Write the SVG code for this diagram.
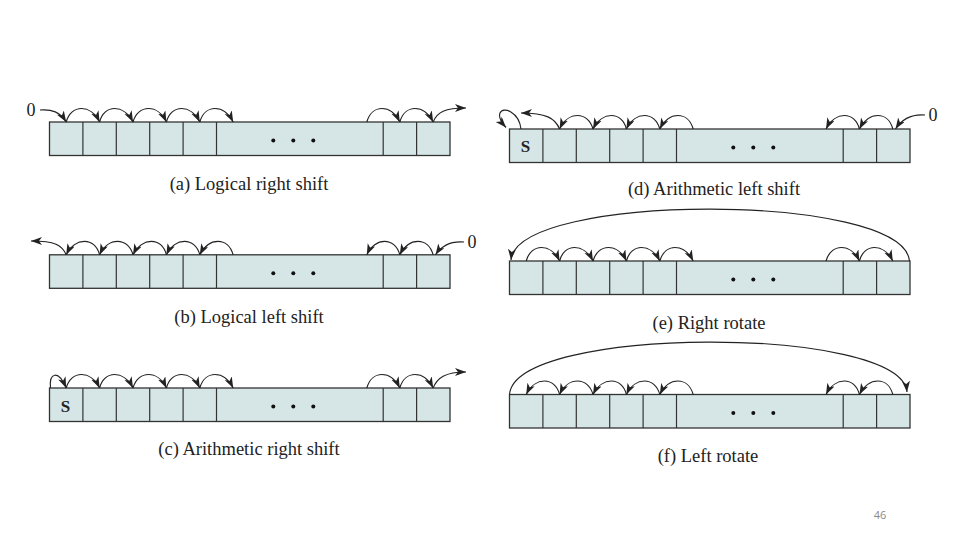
<svg xmlns="http://www.w3.org/2000/svg" width="960" height="540" viewBox="0 0 960 540">
<style>
.reg{fill:#d6e6e6;stroke:#333;stroke-width:1.3}
.div{stroke:#333;stroke-width:1.2}
.dot{fill:#111}
.cap{font-family:"Liberation Serif","Times New Roman",serif;font-size:18.5px;fill:#222;text-anchor:middle}
.lbl{font-family:"Liberation Serif","Times New Roman",serif;font-size:18px;fill:#222;text-anchor:middle}
.s{font-family:"Liberation Serif","Times New Roman",serif;font-size:17px;font-weight:bold;fill:#222;text-anchor:middle}
.arc{fill:none;stroke:#222;stroke-width:1.15;marker-end:url(#ah)}
.pg{font-family:"Open Sans","Liberation Sans",sans-serif;font-size:11px;fill:#8a8a8a;text-anchor:middle}
</style>
<defs>
<marker id="ah" markerUnits="userSpaceOnUse" markerWidth="12" markerHeight="9" refX="11" refY="4" orient="auto">
<path d="M0,0 L11,4 L0,8 L3,4 z" fill="#222"/>
</marker>
<g id="regshape">
<rect class="reg" x="0" y="0" width="400.5" height="33.5"/>
<line class="div" x1="33.4" y1="0" x2="33.4" y2="33.5"/>
<line class="div" x1="66.8" y1="0" x2="66.8" y2="33.5"/>
<line class="div" x1="100.2" y1="0" x2="100.2" y2="33.5"/>
<line class="div" x1="133.6" y1="0" x2="133.6" y2="33.5"/>
<line class="div" x1="167" y1="0" x2="167" y2="33.5"/>
<line class="div" x1="333.7" y1="0" x2="333.7" y2="33.5"/>
<line class="div" x1="367.1" y1="0" x2="367.1" y2="33.5"/>
<circle class="dot" cx="223.8" cy="18.5" r="2"/>
<circle class="dot" cx="243.8" cy="18.5" r="2"/>
<circle class="dot" cx="263.8" cy="18.5" r="2"/>
</g>
</defs>
<rect width="960" height="540" fill="#fff"/>

<g id="reg-a">
<use href="#regshape" x="49.5" y="122"/>
<text class="lbl" x="31" y="116">0</text>
<text class="cap" x="249" y="190">(a) Logical right shift</text>
</g>
<g id="reg-b">
<use href="#regshape" x="49.5" y="254.8"/>
<text class="lbl" x="472" y="248">0</text>
<text class="cap" x="249" y="322.5">(b) Logical left shift</text>
</g>
<g id="reg-c">
<use href="#regshape" x="49.5" y="388"/>
<text class="s" x="65.5" y="411.5">S</text>
<text class="cap" x="249" y="454.5">(c) Arithmetic right shift</text>
</g>
<g id="reg-d">
<use href="#regshape" x="509.5" y="129"/>
<text class="s" x="525.5" y="152">S</text>
<text class="lbl" x="933" y="121">0</text>
<text class="cap" x="714" y="195">(d) Arithmetic left shift</text>
</g>
<g id="reg-e">
<use href="#regshape" x="509.5" y="261"/>
<text class="cap" x="709" y="329">(e) Right rotate</text>
</g>
<g id="reg-f">
<use href="#regshape" x="509.5" y="394.5"/>
<text class="cap" x="708" y="462">(f) Left rotate</text>
</g>

<g id="connectors">
<!-- (a) -->
<path class="arc" d="M40,110 C52,109 60,112 66.2,122"/>
<path class="arc" d="M66.2,122 C71,104 91,104 99.6,122"/>
<path class="arc" d="M99.6,122 C104,104 124,104 133,122"/>
<path class="arc" d="M133,122 C138,104 158,104 166.4,122"/>
<path class="arc" d="M166.4,122 C171,104 191,104 199.8,122"/>
<path class="arc" d="M199.8,122 C205,104 224,104 233.2,122"/>
<path class="arc" d="M366.8,122 C372,104 391,104 399.8,122"/>
<path class="arc" d="M399.8,122 C405,104 424,104 433.2,122"/>
<path class="arc" d="M433.2,122 C437,112 445,108 466,108"/>
<!-- (b) -->
<path class="arc" d="M66.2,254.8 C62,245 55,241 31,241"/>
<path class="arc" d="M99.6,254.8 C95,236.8 75,236.8 66.2,254.8"/>
<path class="arc" d="M133,254.8 C128,236.8 108,236.8 99.6,254.8"/>
<path class="arc" d="M166.4,254.8 C162,236.8 142,236.8 133,254.8"/>
<path class="arc" d="M199.8,254.8 C195,236.8 175,236.8 166.4,254.8"/>
<path class="arc" d="M233.2,254.8 C228,236.8 209,236.8 199.8,254.8"/>
<path class="arc" d="M433.2,254.8 C428,236.8 409,236.8 399.8,254.8"/>
<path class="arc" d="M399.8,254.8 C395,236.8 375,236.8 366.8,254.8"/>
<path class="arc" d="M464,242 C452,241 442,245 435.5,254.8"/>
<!-- (c) -->
<path class="arc" d="M50.5,388 C49,373 58,369 66.2,388"/>
<path class="arc" d="M66.2,388 C71,370 91,370 99.6,388"/>
<path class="arc" d="M99.6,388 C104,370 124,370 133,388"/>
<path class="arc" d="M133,388 C138,370 158,370 166.4,388"/>
<path class="arc" d="M166.4,388 C171,370 191,370 199.8,388"/>
<path class="arc" d="M199.8,388 C205,370 224,370 233.2,388"/>
<path class="arc" d="M366.8,388 C372,370 391,370 399.8,388"/>
<path class="arc" d="M399.8,388 C405,370 424,370 433.2,388"/>
<path class="arc" d="M433.2,388 C437,378 445,372 466,372"/>
<!-- (d) -->
<path class="arc" d="M521,129 C519,112 503,106 500,113 C498,118 502,123 506,127.5"/>
<path class="arc" d="M559.6,129 C555,118 546,113 521,113"/>
<path class="arc" d="M593,129 C588,111 568,111 559.6,129"/>
<path class="arc" d="M626.4,129 C622,111 602,111 593,129"/>
<path class="arc" d="M659.8,129 C655,111 635,111 626.4,129"/>
<path class="arc" d="M693.2,129 C688,111 669,111 659.8,129"/>
<path class="arc" d="M925,115 C912,114 902,119 895.5,129"/>
<path class="arc" d="M892.8,129 C888,111 869,111 859.4,129"/>
<path class="arc" d="M859.4,129 C855,111 835,111 826,129"/>
<!-- (e) -->
<path class="arc" d="M909.5,261 C903,192 517,192 511,260"/>
<path class="arc" d="M526.2,261 C531,243 551,243 559.6,261"/>
<path class="arc" d="M559.6,261 C564,243 584,243 593,261"/>
<path class="arc" d="M593,261 C598,243 618,243 626.4,261"/>
<path class="arc" d="M626.4,261 C631,243 651,243 659.8,261"/>
<path class="arc" d="M659.8,261 C665,243 684,243 693.2,261"/>
<path class="arc" d="M826,261 C831,243 851,243 859.4,261"/>
<path class="arc" d="M859.4,261 C864,243 884,243 892.8,261"/>
<!-- (f) -->
<path class="arc" d="M509.5,394.5 C515,325 901,325 907,392"/>
<path class="arc" d="M559.6,394.5 C555,376.5 535,376.5 526.2,394.5"/>
<path class="arc" d="M593,394.5 C588,376.5 568,376.5 559.6,394.5"/>
<path class="arc" d="M626.4,394.5 C622,376.5 602,376.5 593,394.5"/>
<path class="arc" d="M659.8,394.5 C655,376.5 635,376.5 626.4,394.5"/>
<path class="arc" d="M693.2,394.5 C688,376.5 669,376.5 659.8,394.5"/>
<path class="arc" d="M892.8,394.5 C888,376.5 869,376.5 859.4,394.5"/>
<path class="arc" d="M859.4,394.5 C855,376.5 835,376.5 826,394.5"/>
</g>

<text class="pg" x="880" y="519">46</text>
</svg>
